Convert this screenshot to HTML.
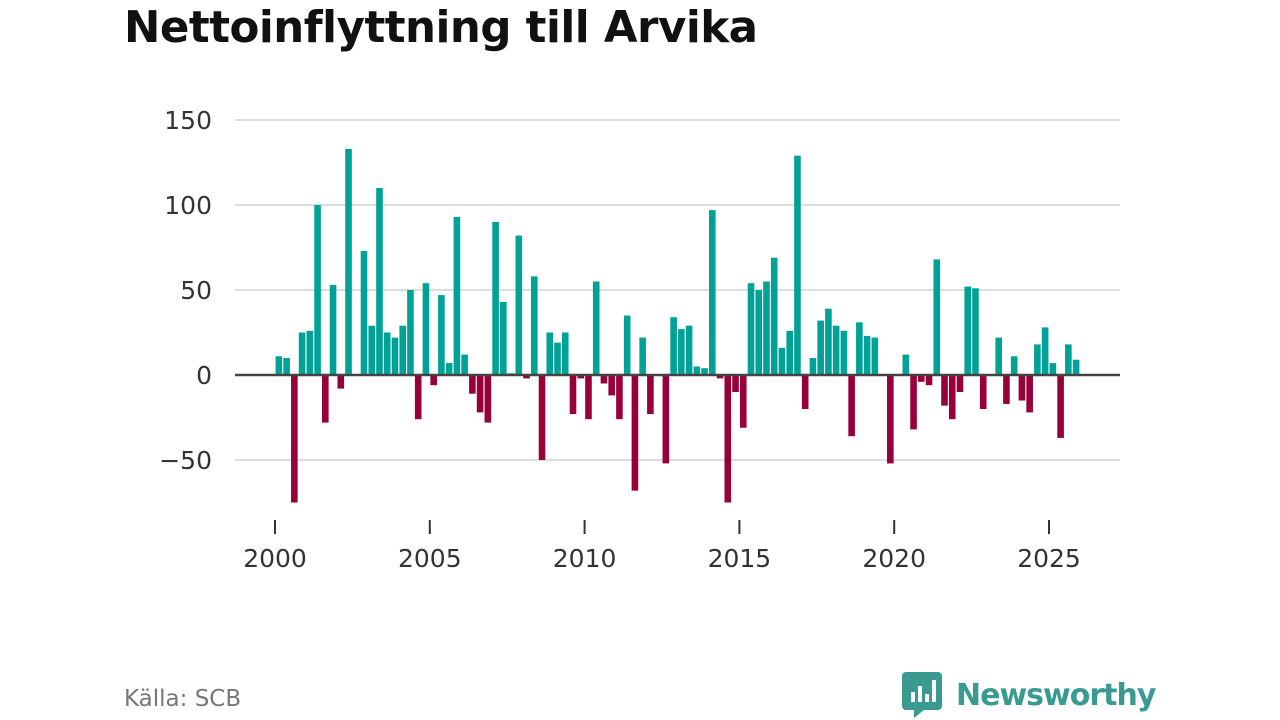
<!DOCTYPE html>
<html><head><meta charset="utf-8"><style>
body{margin:0;background:#fff;font-family:"DejaVu Sans","Liberation Sans",sans-serif;}
#wrap{position:relative;width:1280px;height:720px;overflow:hidden;}
h1{position:absolute;left:124px;top:3px;margin:0;font-size:43.5px;font-weight:bold;color:#111;letter-spacing:-0.5px;}
#src{position:absolute;left:124px;top:686px;font-size:23px;color:#777;}
#logo{position:absolute;left:902px;top:672px;display:flex;align-items:center;}
#logo span{font-size:30px;font-weight:bold;color:#3a9a90;margin-left:14px;letter-spacing:-1px;}
</style></head><body>
<div id="wrap">
<h1>Nettoinflyttning till Arvika</h1>
<svg id="chart" width="1280" height="720" style="position:absolute;left:0;top:0"></svg>
<div id="src">Källa: SCB</div>
<div id="logo">
<svg width="40" height="46" viewBox="0 0 40 46"><path d="M4 0H36A4 4 0 0 1 40 4V34A4 4 0 0 1 36 38H22L12 46V38H4A4 4 0 0 1 0 34V4A4 4 0 0 1 4 0Z" fill="#3a9a90"/><rect x="9" y="20" width="4" height="10" fill="#fff"/><rect x="16" y="14" width="4" height="16" fill="#fff"/><rect x="23" y="22" width="4" height="8" fill="#fff"/><rect x="30" y="8" width="4" height="22" fill="#fff"/></svg>
<span>Newsworthy</span></div>
</div>
<script>
const values=[11,10,-75,25,26,100,-28,53,-8,133,0,73,29,110,25,22,29,50,-26,54,-6,47,7,93,12,-11,-22,-28,90,43,1,82,-2,58,-50,25,19,25,-23,-2,-26,55,-5,-12,-26,35,-68,22,-23,0,-52,34,27,29,5,4,97,-2,-75,-10,-31,54,50,55,69,16,26,129,-20,10,32,39,29,26,-36,31,23,22,0,-52,0,12,-32,-4,-6,68,-18,-26,-10,52,51,-20,0,22,-17,11,-15,-22,18,28,7,-37,18,9];
const startYear=2000;
const yTicks=[-50,0,50,100,150];
const xTicks=[2000,2005,2010,2015,2020,2025];
const svg=document.getElementById('chart');
const NS='http://www.w3.org/2000/svg';
const y=v=>375-v*1.7;
const x=t=>275+(t-2000)*30.96;
function mk(tag,attrs){const e=document.createElementNS(NS,tag);for(const k in attrs)e.setAttribute(k,attrs[k]);svg.appendChild(e);return e;}
yTicks.forEach(t=>{
 if(t!==0){const g=mk('line',{x1:235,x2:1120,y1:y(t),y2:y(t),stroke:'#ddd','stroke-width':2});
 
 }
 const l=mk('text',{x:212,y:y(t)+9,'text-anchor':'end','font-size':25,fill:'#333','font-family':'DejaVu Sans, Liberation Sans, sans-serif'});
 l.textContent=t<0?'\u2212'+Math.abs(t):String(t);
 
 
});
values.forEach((v,i)=>{
 const c=x(startYear+(i+0.5)/4);
 const r=mk('rect',{x:c-3.3,width:6.6,y:v>=0?y(v):y(0),height:Math.abs(v)*1.7,fill:v>=0?'#00a196':'#98003a'});
 
 
});
const z=mk('line',{x1:235,x2:1120,y1:y(0),y2:y(0),stroke:'#444','stroke-width':2.5});


xTicks.forEach(t=>{
 const tk=mk('line',{x1:x(t),x2:x(t),y1:520,y2:534,stroke:'#333','stroke-width':2});
 
 
 const l=mk('text',{x:x(t),y:567,'text-anchor':'middle','font-size':25,fill:'#333','font-family':'DejaVu Sans, Liberation Sans, sans-serif'});
 l.textContent=String(t);
 
 
});
</script>
</body></html>
